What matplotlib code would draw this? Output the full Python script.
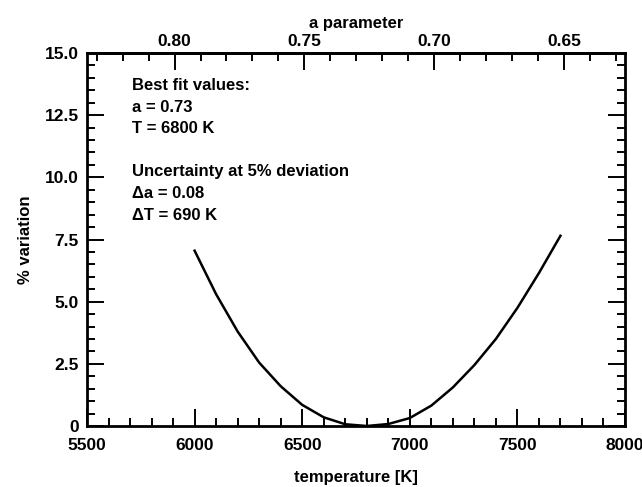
import numpy as np
import matplotlib
matplotlib.use("Agg")
import matplotlib.pyplot as plt
from matplotlib.ticker import MultipleLocator, FuncFormatter

plt.rcParams["font.family"] = ["Liberation Sans", "DejaVu Sans"]
plt.rcParams["font.weight"] = "bold"
plt.rcParams["axes.labelweight"] = "bold"
plt.rcParams["font.size"] = 12

# curve
temperature = [6000, 6100, 6200, 6300, 6400, 6500, 6600, 6700, 6800,
               6900, 7000, 7100, 7200, 7300, 7400, 7500, 7600, 7700]
variation = [7.05, 5.30, 3.80, 2.55, 1.60, 0.85, 0.35, 0.07, 0.0,
             0.08, 0.32, 0.82, 1.55, 2.45, 3.50, 4.75, 6.15, 7.65]

a_ref_T = [5907, 7716]
a_ref_a = [0.80, 0.65]

best_fit = ["Best fit values:", "a = 0.73", "T = 6800 K", "",
            "Uncertainty at 5% deviation", "\u0394a = 0.08", "\u0394T = 690 K"]


def t_to_a(t):
    t = np.asarray(t, dtype=float)
    return a_ref_a[0] + (t - a_ref_T[0]) * (a_ref_a[1] - a_ref_a[0]) / (a_ref_T[1] - a_ref_T[0])


def a_to_t(a):
    a = np.asarray(a, dtype=float)
    return a_ref_T[0] + (a - a_ref_a[0]) * (a_ref_T[1] - a_ref_T[0]) / (a_ref_a[1] - a_ref_a[0])


fig = plt.figure(figsize=(6.42, 4.87), dpi=100)
ax = fig.add_axes([87 / 642, 61 / 487, 538 / 642, 373 / 487])

ax.plot(temperature, variation, color="black", lw=1.8)

ax.set_xlim(5500, 8000)
ax.set_ylim(0, 15)

ax.xaxis.set_major_locator(MultipleLocator(500))
ax.xaxis.set_minor_locator(MultipleLocator(100))
ax.yaxis.set_major_locator(MultipleLocator(2.5))
ax.yaxis.set_minor_locator(MultipleLocator(0.5))
ax.yaxis.set_major_formatter(FuncFormatter(lambda v, p: "0" if v == 0 else f"{v:.1f}"))

ax.tick_params(which="both", direction="in", top=False, right=True, width=1.4,
               labelsize=12.5)
ax.tick_params(which="major", length=12)
ax.tick_params(which="minor", length=6)
ax.tick_params(axis="x", which="major", pad=9)
ax.tick_params(axis="y", which="major", pad=6)
for sp in ax.spines.values():
    sp.set_linewidth(2)

ax.set_xlabel("temperature [K]", labelpad=12)
ax.set_ylabel("% variation", labelpad=8)

sec = ax.secondary_xaxis("top", functions=(t_to_a, a_to_t))
sec.xaxis.set_major_locator(MultipleLocator(0.05))
sec.xaxis.set_minor_locator(MultipleLocator(0.01))
sec.xaxis.set_major_formatter(FuncFormatter(lambda v, p: f"{v:.2f}"))
sec.tick_params(which="both", direction="in", width=1.4, labelsize=12.5)
sec.tick_params(which="major", length=12, pad=3)
sec.tick_params(which="minor", length=6)
sec.spines["top"].set_linewidth(2)
sec.set_xlabel("a parameter", labelpad=4)

ax.text((132 - 87) / 538, (487 - 78 - 61) / 373, "\n".join(best_fit),
        transform=ax.transAxes, va="top", ha="left", linespacing=1.55)

fig.savefig("out.png", dpi=100)
